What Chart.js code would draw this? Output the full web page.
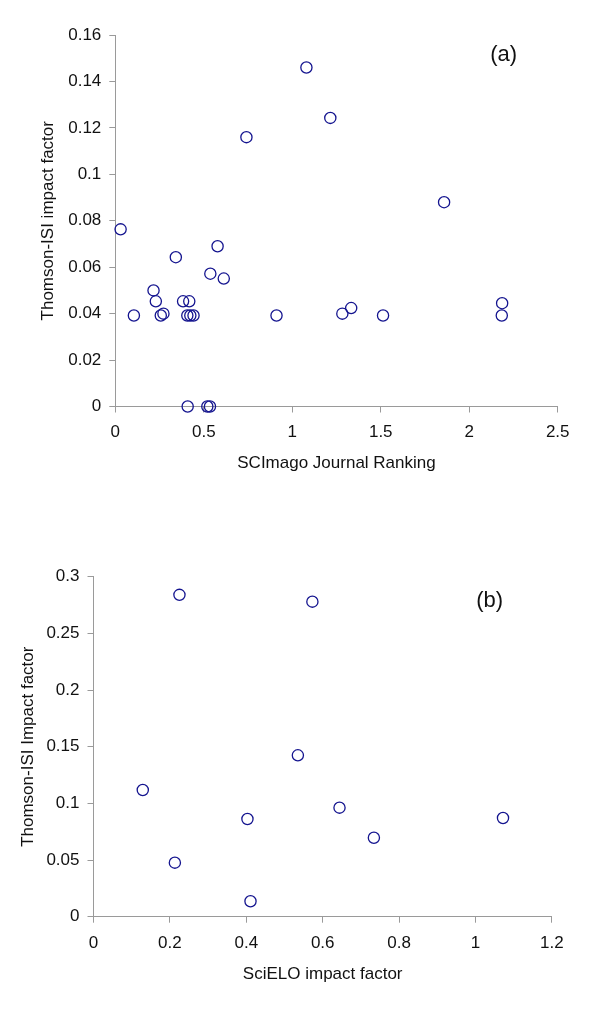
<!DOCTYPE html>
<html>
<head>
<meta charset="utf-8">
<script src="https://cdn.jsdelivr.net/npm/chart.js@4.4.1/dist/chart.umd.min.js"></script>
<style>
  body { margin: 0; background: #fff; }
  #wrap { position: relative; width: 600px; height: 1011px; }
  canvas { position: absolute; left: 0; }
  #chartA { top: 0; }
  #chartB { top: 490px; }
</style>
</head>
<body>
<div id="wrap">
  <canvas id="chartA" width="600" height="490"></canvas>
  <canvas id="chartB" width="600" height="521"></canvas>
</div>
<script>
'use strict';

// panel (a): SCImago Journal Ranking vs Thomson-ISI impact factor
const sjrValues = [0.03, 0.105, 0.216, 0.229, 0.257, 0.272, 0.342, 0.383, 0.418, 0.407, 0.424, 0.442,
  0.409, 0.52, 0.535, 0.537, 0.578, 0.613, 0.741, 0.911, 1.08, 1.215, 1.283, 1.333, 1.513, 1.858, 2.186, 2.184];
const isiValuesA = [0.0763, 0.0392, 0.050, 0.0453, 0.0392, 0.040, 0.0643, 0.0453, 0.0453, 0.0392, 0.0392, 0.0392,
  0, 0, 0, 0.0572, 0.069, 0.0551, 0.116, 0.0392, 0.146, 0.1243, 0.040, 0.0424, 0.0392, 0.088, 0.0445, 0.0392];

// panel (b): SciELO impact factor vs Thomson-ISI impact factor
const scieloValues = [0.129, 0.213, 0.225, 0.403, 0.411, 0.535, 0.573, 0.644, 0.734, 1.072];
const isiValuesB = [0.1118, 0.0477, 0.284, 0.0862, 0.0136, 0.1424, 0.278, 0.0962, 0.0697, 0.0871];

// axis ranges [min, max, step]
const xRangeA = [0, 2.5, 0.5];
const yRangeA = [0, 0.16, 0.02];
const xRangeB = [0, 1.2, 0.2];
const yRangeB = [0, 0.3, 0.05];

// panel tags, placed in data units
const tagA = ['(a)', 2.195, 0.1513];
const tagB = ['(b)', 1.037, 0.2786];

const FONT = "'Liberation Sans', Arial, sans-serif";
const AXIS_GREY = '#9a9a9a';
const MARK_BLUE = '#14148f';

let fmt = v => String(+(+v).toFixed(4));

// draws the (a) / (b) tag through the chart scales
const tagPlugin = {
  id: 'panelTag',
  afterDraw(chart, args, opts) {
    let ctx = chart.ctx;
    let x = chart.scales.x.getPixelForValue(opts.tag[1]);
    let y = chart.scales.y.getPixelForValue(opts.tag[2]);
    ctx.save();
    ctx.font = '22px ' + FONT;
    ctx.fillStyle = '#111';
    ctx.textAlign = 'center';
    ctx.textBaseline = 'middle';
    ctx.fillText(opts.tag[0], x, y);
    ctx.restore();
  }
};

function makePoints(xs, ys) {
  let pts = [];
  for (let i = 0; i < xs.length; ++i) {
    pts.push({x: xs[i], y: ys[i]});
  }
  return pts;
}

function axis(range, title, tickPad, titlePad, fixedSize, horizontal) {
  return {
    type: 'linear',
    min: range[0],
    max: range[1],
    border: {color: AXIS_GREY, width: 1},
    grid: {drawOnChartArea: false, drawTicks: true, tickLength: 6, color: AXIS_GREY},
    ticks: {
      stepSize: range[2],
      padding: tickPad,
      color: '#111',
      font: {family: FONT, size: 17},
      callback: fmt
    },
    title: {
      display: true,
      text: title,
      color: '#111',
      font: {family: FONT, size: 17},
      padding: titlePad
    },
    afterFit(scale) {
      if (horizontal) {
        scale.height = fixedSize;
      } else {
        scale.width = fixedSize;
      }
    }
  };
}

function drawPanel(id, xs, ys, xRange, yRange, xTitle, yTitle, layout, tag) {
  let ctx = document.getElementById(id).getContext('2d');
  /* eslint-disable-next-line no-undef */
  return new Chart(ctx, {
    type: 'scatter',
    data: {
      datasets: [{
        data: makePoints(xs, ys),
        pointStyle: 'circle',
        pointRadius: 5.6,
        pointHoverRadius: 5.6,
        borderWidth: 1.3,
        borderColor: MARK_BLUE,
        backgroundColor: 'rgba(0,0,0,0)',
        clip: false
      }]
    },
    options: {
      responsive: false,
      animation: false,
      events: [],
      layout: {padding: layout.padding},
      plugins: {
        legend: {display: false},
        tooltip: {enabled: false},
        panelTag: {tag: tag}
      },
      scales: {
        x: axis(xRange, xTitle, layout.xTickPad, {top: 0, bottom: layout.xTitlePad}, layout.xHeight, true),
        y: axis(yRange, yTitle, layout.yTickPad, {top: layout.yTitlePad, bottom: 0}, layout.yWidth, false)
      }
    },
    plugins: [tagPlugin]
  });
}

drawPanel('chartA', sjrValues, isiValuesA, xRangeA, yRangeA,
  'SCImago Journal Ranking', 'Thomson-ISI impact factor',
  {padding: {top: 35, right: 42.3, left: 0, bottom: 0}, yWidth: 115.3, xHeight: 83.5,
   xTickPad: 10, yTickPad: 8, xTitlePad: 16, yTitlePad: 38}, tagA);

drawPanel('chartB', scieloValues, isiValuesB, xRangeB, yRangeB,
  'SciELO impact factor', 'Thomson-ISI Impact factor',
  {padding: {top: 86.7, right: 48.1, left: 0, bottom: 0}, yWidth: 93.5, xHeight: 94.3,
   xTickPad: 10, yTickPad: 8, xTitlePad: 26, yTitlePad: 18}, tagB);
</script>
</body>
</html>
